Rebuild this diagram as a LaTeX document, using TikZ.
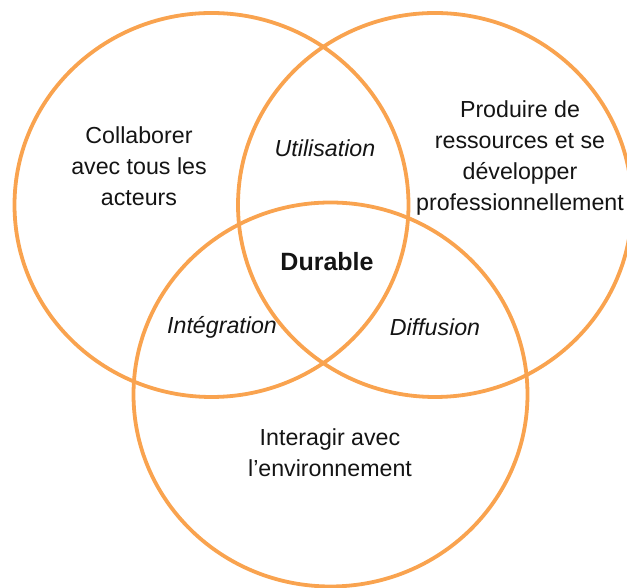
\documentclass[tikz,border=0pt]{standalone}
\usepackage{fontspec}
\setmainfont{Liberation Sans}
\usetikzlibrary{positioning}
\definecolor{vnorange}{HTML}{F9A34F}
\definecolor{vntext}{HTML}{141414}

\begin{document}
\begin{tikzpicture}[
    x=1pt, y=1pt, font=\fontsize{23.2}{31}\selectfont,
    ring/.style={draw=vnorange, line width=3.8pt},
    zone/.style={align=center, text=vntext, inner sep=0pt},
    overlap/.style={zone, font=\fontsize{23.2}{31}\selectfont\itshape}
]
\useasboundingbox (0,0) rectangle (627,588);
\clip (0,0) rectangle (627,588);
% the three sets
\coordinate (cL) at (211.5,383);
\coordinate (cR) at (435,383);
\coordinate (cB) at (330.5,193.5);
\foreach \c in {cL,cR,cB}
    \draw[ring] (\c) ellipse [x radius=197, y radius=192];
% labels
\node[zone] (collab) at (139,422) {Collaborer\\avec tous les\\acteurs};
\node[zone] (prod)   at (520,430) {Produire de\\ressources et se\\développer\\professionnellement};
\node[zone] (inter)  at (330,135) {Interagir avec\\l’environnement};
\node[overlap] (util) at (325,440) {Utilisation};
\node[overlap] (integ) at (222,261) {Intégration};
\node[overlap] (diff) at (435,261) {Diffusion};
\node[zone, font=\fontsize{25}{31}\selectfont\bfseries] (dur) at (327,326) {Durable};
\end{tikzpicture}
\end{document}
